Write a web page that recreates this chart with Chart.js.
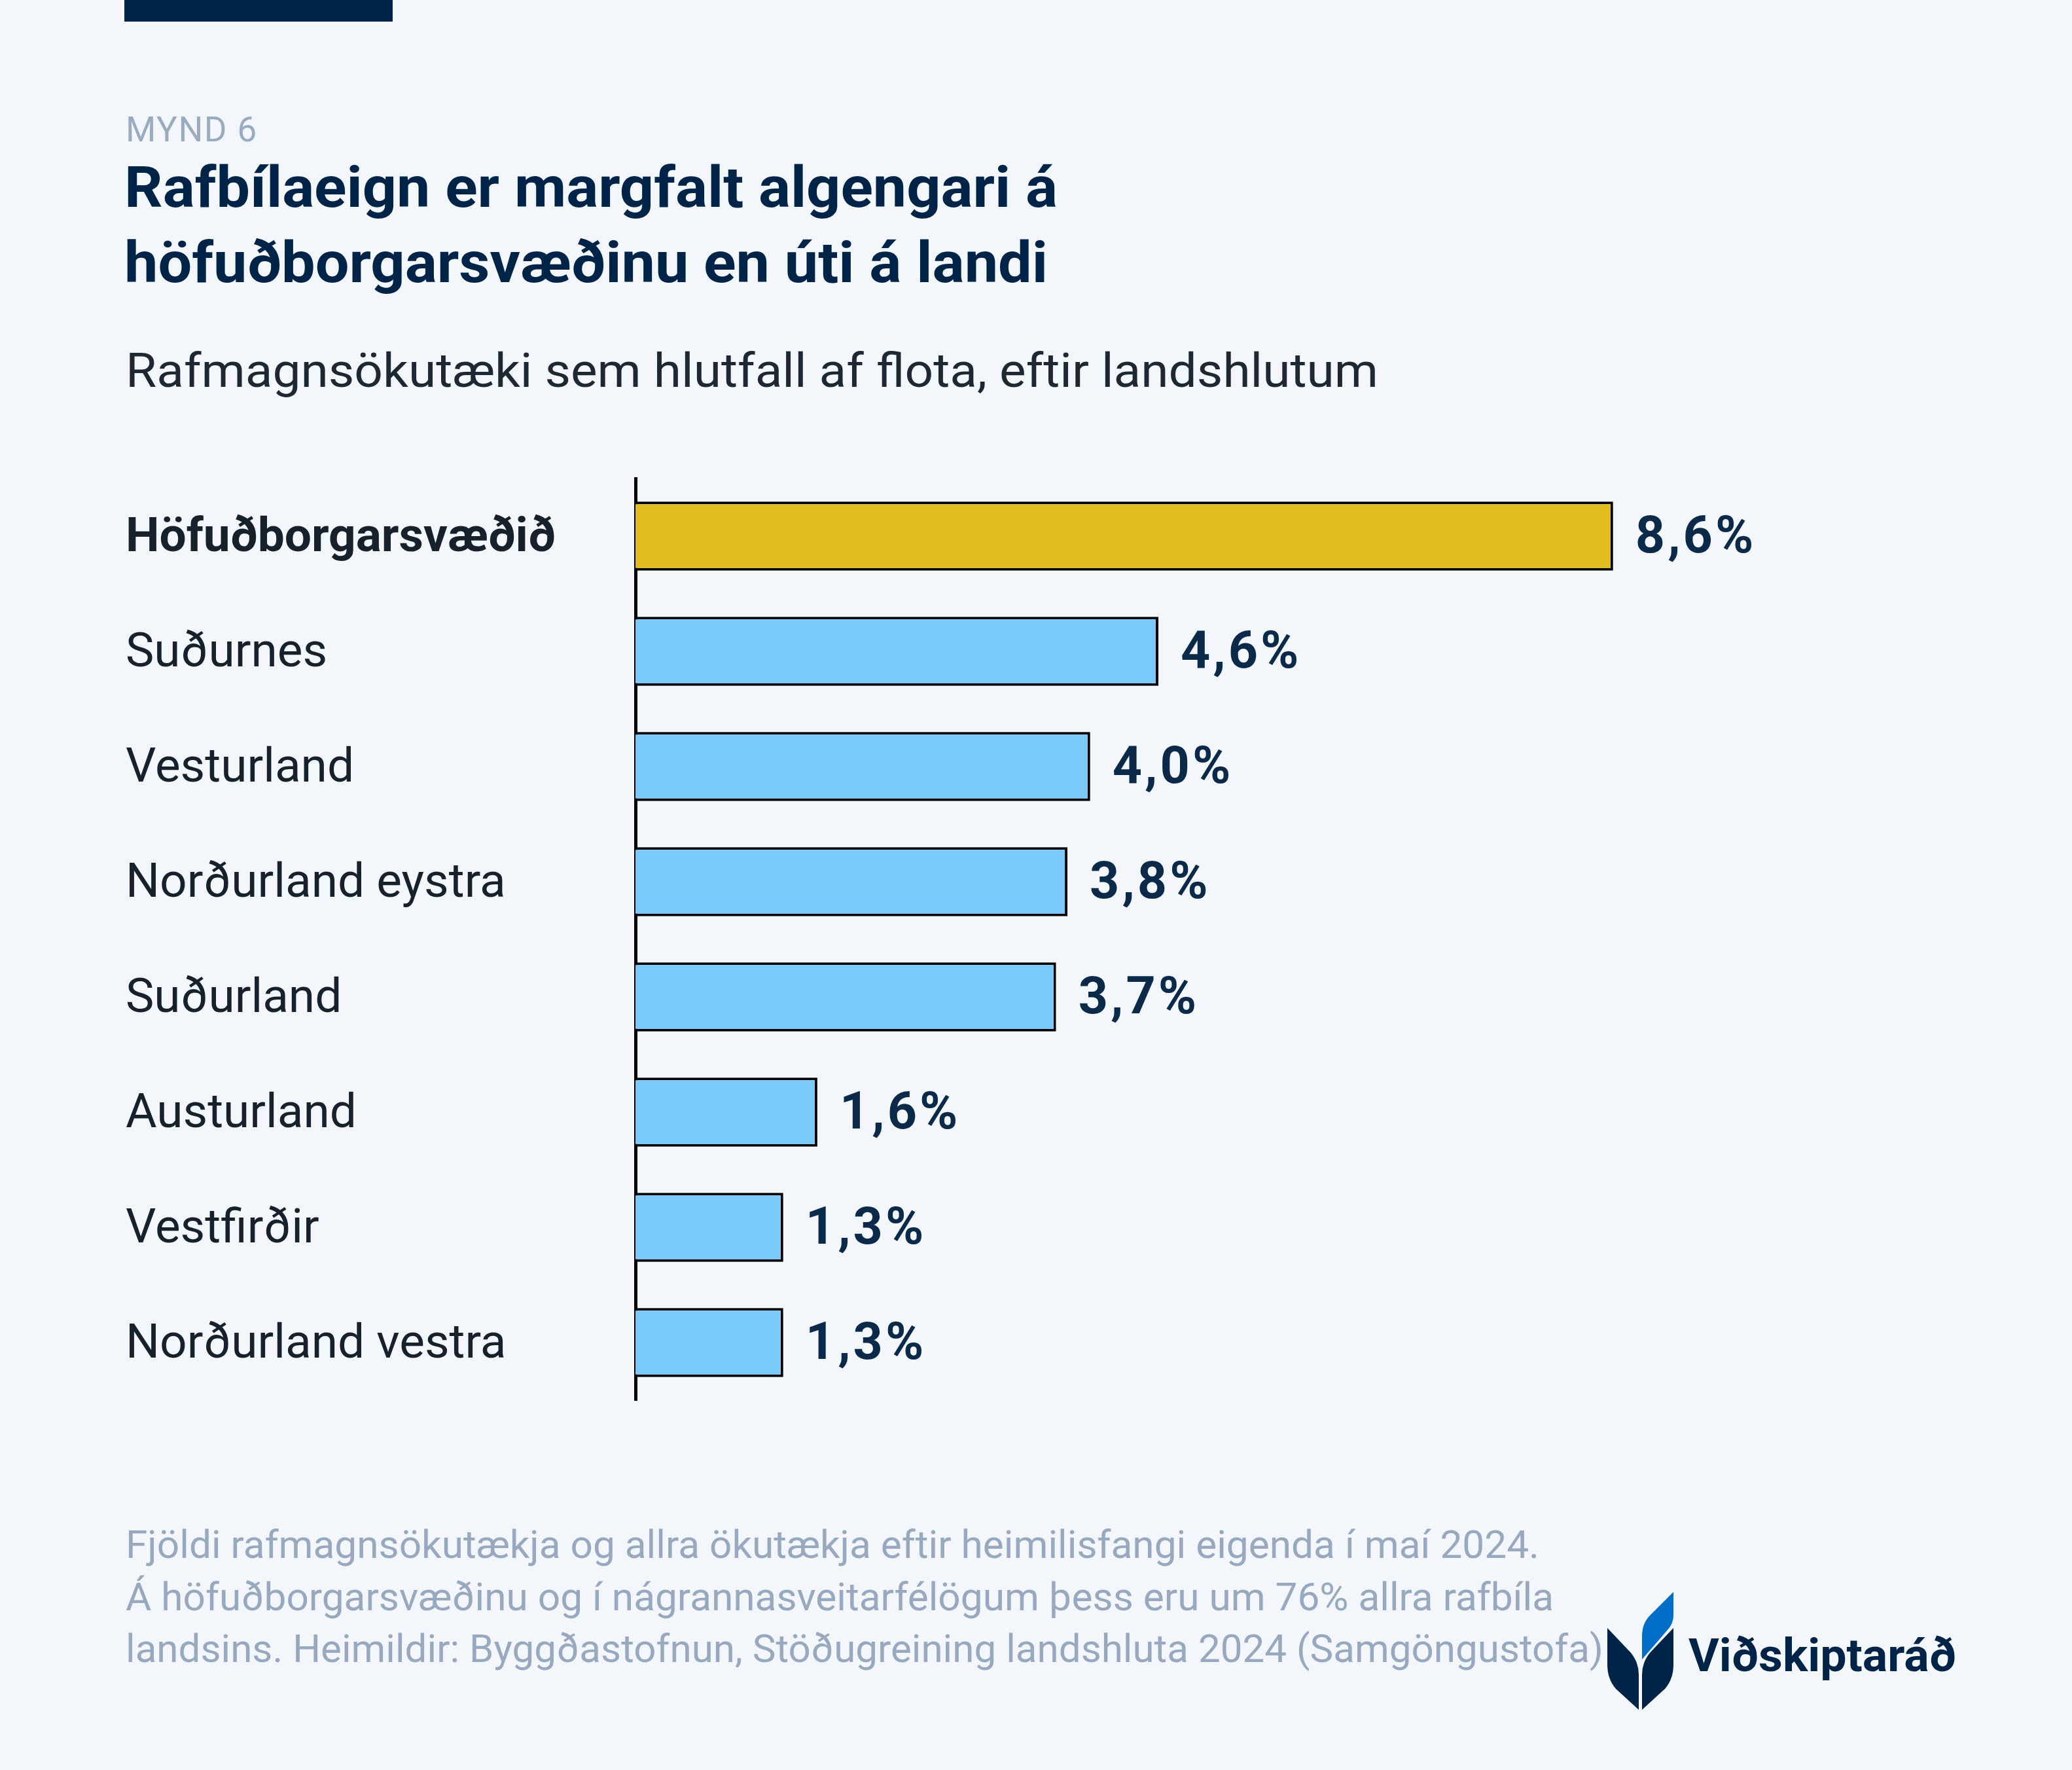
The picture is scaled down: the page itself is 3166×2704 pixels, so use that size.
<!DOCTYPE html>
<html>
<head>
<meta charset="utf-8">
<script src="https://cdn.jsdelivr.net/npm/chart.js@4.4.1/dist/chart.umd.min.js"></script>
<style>
  html, body { margin: 0; padding: 0; background: #F3F7FC; }
  #page { position: relative; width: 3166px; height: 2704px; overflow: hidden; background: #F3F7FC; }
  #art { position: absolute; left: 0; top: 0; }
  #wrap { position: absolute; left: 192px; top: 700px; width: 2900px; height: 1480px; }
  text { font-family: Roboto, "Noto Sans", sans-serif; }
</style>
</head>
<body>
<div id="page">
  <svg id="art" width="3166" height="2704">
    <rect x="190" y="0" width="410" height="33" fill="#002447"/>
    <text x="192" y="216" font-size="53" fill="#9AABC0" letter-spacing="1.5">MYND 6</text>
    <text x="190" y="316" font-size="88" font-weight="700" fill="#002447" textLength="1426" lengthAdjust="spacingAndGlyphs">Rafbílaeign er margfalt algengari á</text>
    <text x="190" y="431" font-size="88" font-weight="700" fill="#002447" textLength="1411" lengthAdjust="spacingAndGlyphs">höfuðborgarsvæðinu en úti á landi</text>
    <text x="192" y="591" font-size="73" fill="#1E2833" textLength="1914" lengthAdjust="spacingAndGlyphs">Rafmagnsökutæki sem hlutfall af flota, eftir landshlutum</text>

    <text x="192" y="2380" font-size="60" fill="#98A9BF" textLength="2160" lengthAdjust="spacingAndGlyphs">Fjöldi rafmagnsökutækja og allra ökutækja eftir heimilisfangi eigenda í maí 2024.</text>
    <text x="192" y="2460" font-size="60" fill="#98A9BF" textLength="2182" lengthAdjust="spacingAndGlyphs">Á höfuðborgarsvæðinu og í nágrannasveitarfélögum þess eru um 76% allra rafbíla</text>
    <text x="192" y="2539" font-size="60" fill="#98A9BF" textLength="2258" lengthAdjust="spacingAndGlyphs">landsins. Heimildir: Byggðastofnun, Stöðugreining landshluta 2024 (Samgöngustofa)</text>

    <path d="M2557,2432 L2557,2468 Q2557,2480 2548,2490 L2509,2535 L2509,2500 Q2509,2480 2521,2468 Z" fill="#006DC6"/>
    <path d="M2456,2487 L2492,2525 Q2504,2540 2504,2558 L2504,2612 L2469,2580 Q2456,2565 2456,2543 Z" fill="#002447"/>
    <path d="M2557,2487 L2521,2525 Q2509,2540 2509,2558 L2509,2612 L2544,2580 Q2557,2565 2557,2543 Z" fill="#002447"/>
    <text x="2580" y="2553" font-size="70" font-weight="700" fill="#002447" textLength="409" lengthAdjust="spacingAndGlyphs">Viðskiptaráð</text>
  </svg>
  <div id="wrap"><canvas id="c" width="2900" height="1480"></canvas></div>
</div>
<script>
const regions = ['Höfuðborgarsvæðið', 'Suðurnes', 'Vesturland', 'Norðurland eystra',
  'Suðurland', 'Austurland', 'Vestfirðir', 'Norðurland vestra'];
const shares = [8.6, 4.6, 4.0, 3.8, 3.7, 1.6, 1.3, 1.3];
const highlight = 'Höfuðborgarsvæðið';

const GOLD = '#E1BD20';
const BLUE = '#7ACBFC';

// value labels at the end of each bar, e.g. "8,6%"
const valueLabels = {
  id: 'valueLabels',
  afterDatasetsDraw(chart) {
    const ctx = chart.ctx;
    const meta = chart.getDatasetMeta(0);
    ctx.save();
    ctx.font = '700 79px Roboto, "Noto Sans", sans-serif';
    if ('letterSpacing' in ctx) ctx.letterSpacing = '4px';
    ctx.fillStyle = '#0B2A4A';
    ctx.textAlign = 'left';
    ctx.textBaseline = 'middle';
    meta.data.forEach((bar, i) => {
      const txt = shares[i].toFixed(1).replace('.', ',') + '%';
      ctx.fillText(txt, bar.x + 34, bar.y + 5);
    });
    ctx.restore();
  }
};

new Chart(document.getElementById('c'), {
  type: 'bar',
  data: {
    labels: regions,
    datasets: [{
      data: shares,
      backgroundColor: regions.map(r => r === highlight ? GOLD : BLUE),
      borderColor: '#000000',
      borderWidth: 4,
      borderSkipped: 'start',
      barPercentage: 0.6,
      categoryPercentage: 1.0
    }]
  },
  options: {
    indexAxis: 'y',
    responsive: false,
    animation: false,
    devicePixelRatio: 1,
    layout: { padding: { top: 31, bottom: 41, right: 384, left: 0 } },
    plugins: { legend: { display: false }, tooltip: { enabled: false } },
    scales: {
      x: { display: false, min: 0, max: 10 },
      y: {
        afterFit(scale) {
          scale.width = 779;
          scale.paddingTop = 0;
          scale.paddingBottom = 0;
        },
        grid: { display: true, color: 'transparent', drawTicks: false },
        border: { display: true, color: '#000000', width: 5 },
        ticks: {
          crossAlign: 'far',
          color: '#16212C',
          padding: 0,
          labelOffset: 5,
          font: ctx => ({
            family: 'Roboto, "Noto Sans", sans-serif',
            size: 73,
            weight: ctx.index === 0 ? '700' : '400'
          })
        }
      }
    }
  },
  plugins: [valueLabels]
});
</script>
</body>
</html>
